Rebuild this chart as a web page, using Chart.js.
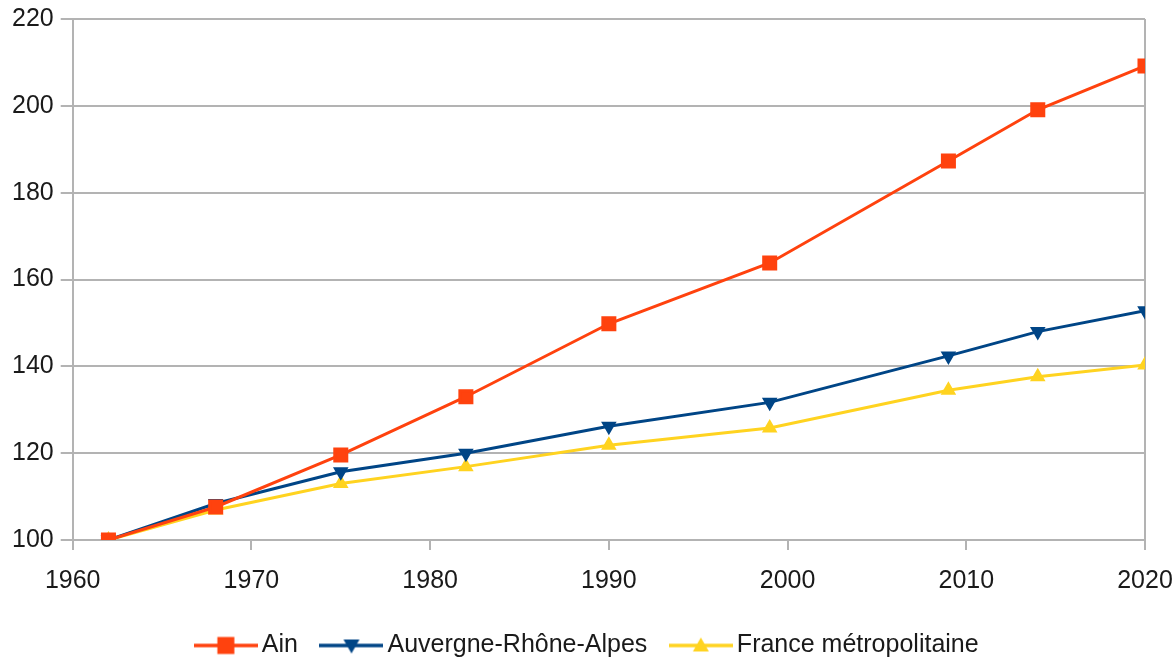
<!DOCTYPE html>
<html><head><meta charset="utf-8">
<script src="https://cdn.jsdelivr.net/npm/chart.js@4/dist/chart.umd.min.js"></script>
<style>html,body{margin:0;padding:0;background:#fff}#wrap{width:1176px;height:657px}</style>
</head><body><div id="wrap"><canvas id="c" width="1176" height="657"></canvas></div>
<script>
const years = [1962, 1968, 1975, 1982, 1990, 1999, 2009, 2014, 2020];
const ain = [100, 107.6, 119.6, 133.0, 149.8, 163.8, 187.3, 199.1, 209.2];
const aura = [100, 108.4, 115.7, 120.0, 126.2, 131.7, 142.4, 148.0, 152.8];
const france = [100, 106.9, 113.0, 116.9, 121.8, 125.8, 134.5, 137.6, 140.3];
const seriesNames = ['Ain', 'Auvergne-Rhône-Alpes', 'France métropolitaine'];
const xTicks = [1960, 1970, 1980, 1990, 2000, 2010, 2020];
const yTicks = [100, 120, 140, 160, 180, 200, 220];

const FONT = 'Liberation Sans';
const FS = 25;
const GRID = '#b3b3b3';
const TXT = '#1a1a1a';

function legendIcon(color, style, rot) {
  const cv = document.createElement('canvas');
  cv.width = 64; cv.height = 24;
  const g = cv.getContext('2d');
  g.strokeStyle = color; g.lineWidth = 3.5;
  g.beginPath(); g.moveTo(0, 12); g.lineTo(64, 12); g.stroke();
  g.fillStyle = color;
  g.save(); g.translate(32, 12);
  if (style === 'rect') { g.fillRect(-8.5, -8.5, 17, 17); }
  else {
    if (rot) g.rotate(Math.PI);
    g.beginPath(); g.moveTo(0, -8); g.lineTo(8, 6); g.lineTo(-8, 6); g.closePath(); g.fill();
  }
  g.restore();
  return cv;
}

const pts = arr => years.map((y, i) => ({x: y, y: arr[i]}));
const colors = ['#ff420e', '#004586', '#ffd320'];
const icons = [legendIcon(colors[0], 'rect'), legendIcon(colors[1], 'tri', true), legendIcon(colors[2], 'tri', false)];

new Chart(document.getElementById('c'), {
  type: 'line',
  data: {
    datasets: [
      {label: seriesNames[0], data: pts(ain), borderColor: colors[0], backgroundColor: colors[0], borderWidth: 3, pointStyle: 'rect', pointRadius: 8.5, pointHoverRadius: 8.5, order: 1},
      {label: seriesNames[1], data: pts(aura), borderColor: colors[1], backgroundColor: colors[1], borderWidth: 3, pointStyle: 'triangle', rotation: 180, pointRadius: 6, pointHoverRadius: 6, order: 2},
      {label: seriesNames[2], data: pts(france), borderColor: colors[2], backgroundColor: colors[2], borderWidth: 3, pointStyle: 'triangle', pointRadius: 6, pointHoverRadius: 6, order: 3}
    ]
  },
  options: {
    responsive: false,
    animation: false,
    layout: {padding: {left: 5, right: 0, top: 19, bottom: -11}},
    scales: {
      x: {
        type: 'linear', min: 1960, max: 2020,
        afterBuildTicks: s => { s.ticks = xTicks.map(v => ({value: v})); },
        afterFit: s => { s.height = 63; s.paddingLeft = 0; s.paddingRight = 31; },
        ticks: {color: TXT, font: {family: FONT, size: FS}, padding: 16, maxRotation: 0, callback: v => String(v)},
        grid: {color: c => (c.tick && (c.tick.value === 1960 || c.tick.value === 2020)) ? GRID : 'rgba(0,0,0,0)', tickColor: GRID, tickLength: 10, lineWidth: 2},
        border: {display: false}
      },
      y: {
        min: 100, max: 220,
        afterBuildTicks: s => { s.ticks = yTicks.map(v => ({value: v})); },
        afterFit: s => { s.paddingTop = 0; s.paddingBottom = 0; },
        ticks: {color: TXT, font: {family: FONT, size: FS}, padding: 7},
        grid: {color: GRID, tickColor: GRID, tickLength: 12, lineWidth: 2},
        border: {display: false}
      }
    },
    plugins: {
      tooltip: {enabled: false},
      legend: {
        position: 'bottom',
        labels: {
          usePointStyle: true,
          pointStyleWidth: 47,
          boxHeight: 20,
          color: TXT,
          font: {family: FONT, size: FS},
          padding: 30,
          generateLabels: chart => chart.data.datasets.map((d, i) => ({
            text: d.label, pointStyle: icons[i], fillStyle: colors[i], strokeStyle: colors[i],
            lineWidth: 0, hidden: false, datasetIndex: i, fontColor: TXT
          }))
        }
      }
    }
  }
});
</script></body></html>
